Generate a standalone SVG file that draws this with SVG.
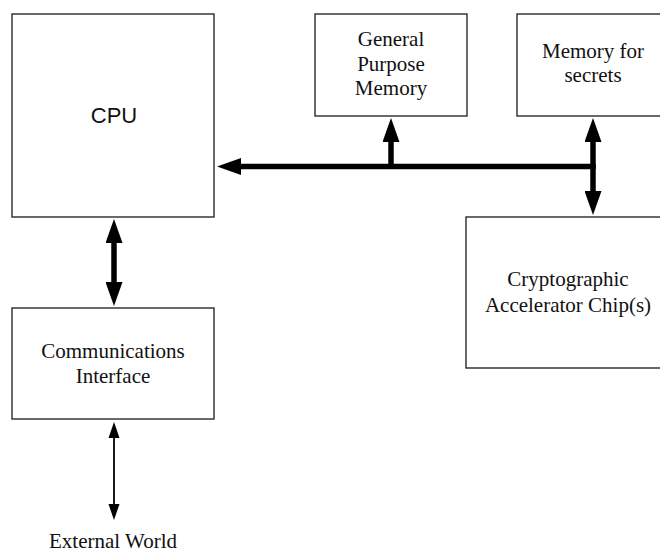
<svg xmlns="http://www.w3.org/2000/svg" width="660" height="553" viewBox="0 0 660 553">
  <style>
    .box { fill: #ffffff; stroke: #2a2a2a; stroke-width: 1.4; }
    .serif { font-family: "Liberation Serif", "Times New Roman", serif; font-size: 21px; fill: #111; text-anchor: middle; }
    .sans { font-family: "Liberation Sans", Arial, sans-serif; font-size: 22px; fill: #111; text-anchor: middle; }
    .bus { stroke: #000; stroke-width: 5.5; fill: none; }
    .thin { stroke: #000; stroke-width: 1.8; fill: none; }
  </style>
  <defs>
    <marker id="headThick" markerUnits="userSpaceOnUse" markerWidth="24" markerHeight="17" viewBox="0 -8.5 24 17" refX="1" refY="0" orient="auto-start-reverse">
      <path d="M0,-8.5 L24,0 L0,8.5 z" fill="#000"/>
    </marker>
    <marker id="headThin" markerUnits="userSpaceOnUse" markerWidth="16" markerHeight="12" viewBox="0 -6 16 12" refX="1" refY="0" orient="auto-start-reverse">
      <path d="M0,-5.5 L16,0 L0,5.5 z" fill="#000"/>
    </marker>
  </defs>

  <rect width="660" height="553" fill="#ffffff"/>

  <g id="cpu">
    <rect class="box" x="12" y="14" width="202" height="203"/>
    <text class="sans" x="114" y="123">CPU</text>
  </g>

  <g id="general-memory">
    <rect class="box" x="315" y="14" width="152" height="102"/>
    <text class="serif" x="391" y="46">General</text>
    <text class="serif" x="391" y="70.5">Purpose</text>
    <text class="serif" x="391" y="95">Memory</text>
  </g>

  <g id="secret-memory">
    <rect class="box" x="517" y="14" width="170" height="102"/>
    <text class="serif" x="593" y="58">Memory for</text>
    <text class="serif" x="593" y="82">secrets</text>
  </g>

  <g id="crypto-chip">
    <rect class="box" x="466" y="217" width="220" height="151"/>
    <text class="serif" x="568" y="286">Cryptographic</text>
    <text class="serif" x="568" y="312">Accelerator Chip(s)</text>
  </g>

  <g id="comms">
    <rect class="box" x="12" y="308" width="202" height="111"/>
    <text class="serif" x="113" y="358">Communications</text>
    <text class="serif" x="113" y="383">Interface</text>
  </g>

  <g id="external-world">
    <text class="serif" x="113" y="548">External World</text>
  </g>

  <g id="connectors">
    <!-- system bus into the CPU -->
    <line class="bus" x1="595.75" y1="166.5" x2="240" y2="166.5" marker-end="url(#headThick)"/>
    <!-- bus tap up to general memory -->
    <line class="bus" x1="391" y1="169" x2="391" y2="141" marker-end="url(#headThick)"/>
    <!-- secrets memory / crypto chip riser -->
    <line class="bus" x1="593" y1="141" x2="593" y2="192" marker-start="url(#headThick)" marker-end="url(#headThick)"/>
    <!-- CPU to communications interface -->
    <line class="bus" x1="114" y1="242" x2="114" y2="283" marker-start="url(#headThick)" marker-end="url(#headThick)"/>
    <!-- interface to outside -->
    <line class="thin" x1="114" y1="437" x2="114" y2="505" marker-start="url(#headThin)" marker-end="url(#headThin)"/>
  </g>
</svg>
